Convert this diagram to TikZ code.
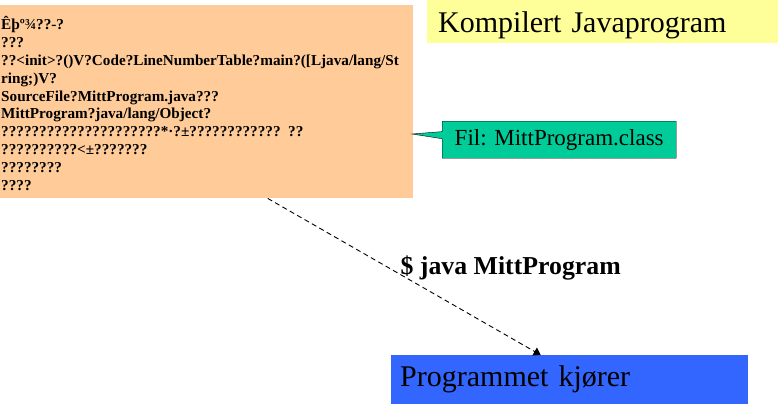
\documentclass[tikz,border=0pt]{standalone}
\usepackage{fontspec}
\setmainfont{Liberation Serif}
\usetikzlibrary{arrows.meta,shapes.callouts}

\definecolor{fersken}{HTML}{FFCC99}
\definecolor{lysgul}{HTML}{FFFF99}
\definecolor{gronn}{HTML}{00CC99}
\definecolor{klarbla}{HTML}{3366FF}

\tikzset{
  boks/.style={shape=rectangle,anchor=north west,inner ysep=0pt,align=left},
  stor/.style={font=\fontsize{30}{36}\selectfont}
}

\begin{document}
\begin{tikzpicture}[x=1pt,y=-1pt]
    \useasboundingbox (0,0) rectangle (778,404);

    \node[boks,fill=fersken,text width=411pt,inner xsep=1pt,minimum height=193pt,
          font=\bfseries\fontsize{15.2}{17.8}\selectfont] (klassefil) at (0,5)
        {\rule{0pt}{17pt}Êþº¾??-?\\
         ???\\
         ??<init>?()V?Code?LineNumberTable?main?([Ljava/lang/St\\
         ring;)V?\\
         SourceFile?MittProgram.java???\\
         MittProgram?java/lang/Object?\\
         ?????????????????????*·?±???????????? ??\\
         ??????????<±???????\\
         ????????\\
         ????};
    \node[boks,stor,fill=lysgul,text width=329pt,inner xsep=11pt,minimum height=43pt] (tittel) at (427,0) {\rule{0pt}{28pt}Kompilert Javaprogram};
    \node[rectangle callout,draw=black,fill=gronn,anchor=north west,minimum width=234pt,minimum height=37pt,
          font=\fontsize{23}{27}\selectfont,callout absolute pointer={(412,134)}] (fil) at (442,121) {Fil: MittProgram.class};
    \node[boks,stor,fill=klarbla,text width=339pt,inner xsep=9pt,minimum height=49pt] (kjorer) at (391,355) {Programmet kjører};

    \draw[dash pattern=on 5pt off 3.5pt,line width=0.9pt,-{Triangle[length=7pt,width=9pt]}] ([xshift=61pt]klassefil.south) --
        node[pos=0.485,anchor=west,yshift=6pt,inner sep=0pt,font=\bfseries\fontsize{25.8}{30}\selectfont] {\$ java MittProgram}
        ([xshift=-29pt]kjorer.north);
\end{tikzpicture}
\end{document}
